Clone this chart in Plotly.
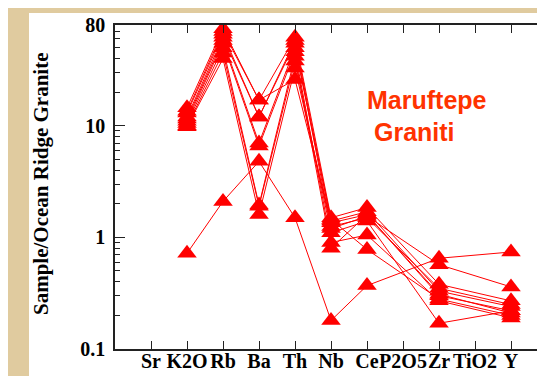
import plotly.graph_objects as go

# ---- data -------------------------------------------------------------
categories = ["Sr", "K2O", "Rb", "Ba", "Th", "Nb", "Ce", "P2O5", "Zr", "TiO2", "Y"]
plotted_elements = ["K2O", "Rb", "Ba", "Th", "Nb", "Ce", "Zr", "Y"]

sample_1 = [14.5, 74, 17, 62, 1.50, 1.85, 0.38, 0.27]
sample_2 = [13.5, 70, 17, 26, 1.40, 1.70, 0.33, 0.24]
sample_3 = [13.0, 66, 12, 58, 1.35, 1.60, 0.30, 0.22]
sample_4 = [12.0, 62, 12, 55, 1.20, 1.55, 0.57, 0.36]
sample_5 = [11.5, 58, 7.0, 50, 1.45, 0.78, 0.28, 0.20]
sample_6 = [11.0, 55, 6.6, 46, 0.90, 1.05, 0.27, 0.19]
sample_7 = [10.5, 50, 1.95, 42, 0.80, 1.60, 0.31, 0.21]
sample_8 = [10.0, 45, 1.90, 38, 1.10, 1.40, 0.17, 0.22]
sample_9 = [9.8, 40, 1.60, 33, 1.25, 1.50, 0.35, 0.25]
sample_10 = [0.72, 2.1, 4.8, 1.5, 0.18, 0.37, 0.65, 0.74]

samples = [sample_1, sample_2, sample_3, sample_4, sample_5,
           sample_6, sample_7, sample_8, sample_9, sample_10]

y_tickvals = [0.1, 1, 10, 80]
y_ticktext = ["0.1", "1", "10", "80"]
y_minor = [0.2, 0.3, 0.4, 0.5, 0.6, 0.7, 0.8, 0.9,
           2, 3, 4, 5, 6, 7, 8, 9,
           20, 30, 40, 50, 60, 70]

# ---- figure -----------------------------------------------------------
RED = "#FF0000"
LABEL_RED = "#FF3300"
SERIF = "Liberation Serif, Times New Roman, serif"

fig = go.Figure()
for s in samples:
    fig.add_trace(go.Scatter(
        x=plotted_elements, y=s, mode="lines+markers",
        line=dict(color=RED, width=1),
        marker=dict(symbol="triangle-up", size=17, color=RED, line=dict(width=0)),
        showlegend=False, hoverinfo="x+y",
    ))

W, H = 545, 376
L, R, T, B = 107, 6, 17, 35
pw, ph = W - L - R, H - T - B

def px_x(px):
    return (px - L) / pw

def px_y(py):
    return (H - B - py) / ph

fig.update_layout(
    width=W, height=H,
    margin=dict(l=L, r=R, t=T, b=B, pad=0, autoexpand=False),
    paper_bgcolor="#E0CB9F",
    plot_bgcolor="white",
    showlegend=False,
    xaxis=dict(
        type="category", categoryorder="array", categoryarray=categories,
        range=[-1, 11], showgrid=False, zeroline=False, automargin=False,
        showline=True, linecolor="#222222", linewidth=1.5, mirror="allticks",
        ticks="inside", ticklen=8, tickwidth=1.2, tickcolor="#222222",
        tickangle=0,
        tickfont=dict(family=SERIF, size=20, color="black", weight="bold"),
        ticklabelstandoff=-7,
    ),
    yaxis=dict(
        type="log", range=[-1, 1.90309], showgrid=False, zeroline=False,
        automargin=False,
        showline=True, linecolor="#222222", linewidth=1.5, mirror="allticks",
        tickmode="array", tickvals=y_tickvals, ticktext=y_ticktext,
        ticks="inside", ticklen=10, tickwidth=1.2, tickcolor="#222222",
        tickfont=dict(family=SERIF, size=20, color="black", weight="bold"),
        ticklabelstandoff=4,
        minor=dict(tickmode="array", tickvals=y_minor, ticks="inside",
                   ticklen=5, tickwidth=1.2, tickcolor="#222222", showgrid=False),
    ),
    shapes=[dict(
        type="rect", xref="paper", yref="paper", layer="below",
        x0=px_x(21), x1=px_x(541), y0=px_y(370), y1=px_y(5),
        fillcolor="white", line=dict(width=0),
    )],
    annotations=[
        dict(text="Sample/Ocean Ridge Granite", textangle=-90,
             xref="paper", yref="paper", x=px_x(33), y=px_y(176),
             xanchor="center", yanchor="middle", showarrow=False,
             font=dict(family=SERIF, size=21, color="black", weight="bold")),
        dict(text="Maruftepe", xref="paper", yref="paper",
             x=px_x(357), y=px_y(92), xanchor="left", yanchor="middle",
             showarrow=False,
             font=dict(family="Liberation Sans, Arial, sans-serif", size=25,
                       color=LABEL_RED, weight="bold")),
        dict(text="Graniti", xref="paper", yref="paper",
             x=px_x(364), y=px_y(124), xanchor="left", yanchor="middle",
             showarrow=False,
             font=dict(family="Liberation Sans, Arial, sans-serif", size=25,
                       color=LABEL_RED, weight="bold")),
    ],
)

fig.write_html("out.html")
